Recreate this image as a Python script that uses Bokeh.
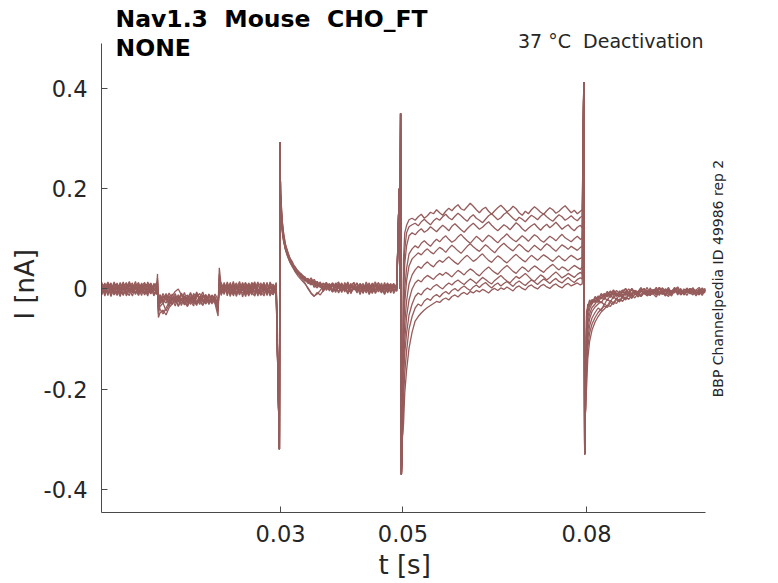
import math
from bokeh.plotting import figure
from bokeh.models import Range1d, FixedTicker, Label, Title
from bokeh.embed import file_html
from bokeh.resources import INLINE

# ---------------- data: time in ms, current in pA (10 sweeps) ----------------
segA_t_ms = [0.8, 1.3, 1.8, 2.3, 2.8, 3.3, 3.8, 4.3, 4.8, 5.3, 5.8, 6.3, 6.8, 7.3, 7.8, 8.3, 8.8, 9.3, 9.8]
segA_pA = [
    [4, -9, 11, -3, 14, 2, -12, 7, -1, 10, -8, 3, 13, -6, 1, -14, 8, -4, 6],
    [-7, 5, -13, 9, -2, 12, -5, -11, 3, 15, -4, 8, -9, 0, 11, -6, 4, -12, 2],
    [10, -3, 6, -15, 4, -7, 13, 0, -10, 5, 12, -8, 2, -13, 7, 9, -5, 1, -9],
    [-12, 8, 1, 12, -9, 5, -2, 14, -6, -13, 6, -1, 10, -7, 3, -11, 12, -3, 8],
    [7, -14, 9, -5, 2, -10, 11, -3, 13, -8, 0, 15, -6, 4, -12, 2, -7, 10, -2],
    [-3, 12, -8, 5, -12, 9, 3, -9, 8, 1, -14, 4, -5, 12, -2, 7, -10, 5, 13],
    [13, -6, 4, -10, 8, -1, -15, 6, 11, -4, 7, -11, 3, 9, -8, 14, 1, -6, -11],
    [-9, 2, 14, -1, -11, 7, 5, -13, 2, 8, -6, 10, -12, 5, 13, -3, -9, 11, 4],
    [1, -11, 7, 10, -4, -13, 9, 2, -7, 12, 3, -9, 7, -3, -10, 6, 11, -14, 0],
    [6, 9, -6, -8, 11, 3, -8, 12, -14, -2, 9, 1, -13, 8, 4, -9, -1, 7, -5],
]
blip1_t_ms = [9.9, 10.05]
blip1_pA = [[30, -40], [22, -57], [15, -50], [18, -45], [12, -42],
            [8, -36], [6, -30], [4, -27], [2, -25], [0, -22]]

segB_t_ms = [10.3, 10.8, 11.3, 11.8, 12.3, 12.8, 13.3, 13.8, 14.3, 14.8, 15.3, 15.8, 16.3, 16.8, 17.3, 17.8, 18.3, 18.8, 19.3]
segB_pA = [
    [-14, -26, -9, -20, -31, -13, -24, -8, -19, -29, -15, -22, -6, -27, -18, -11, -25, -16, -23],
    [-48, -42, -52, -37, -30, -22, -33, -18, -27, -35, -21, -14, -28, -24, -32, -17, -26, -20, -29],
    [-35, -28, -44, -31, -16, -25, -12, -22, -30, -19, -7, -24, -33, -15, -21, -28, -10, -25, -18],
    [-22, -30, -17, -34, -21, -9, -26, -19, -32, -14, -23, -29, -11, -20, -25, -16, -31, -13, -21],
    [-27, -14, -23, -8, -19, -28, -12, -33, -17, -24, -10, -21, -30, -18, -6, -26, -15, -22, -28],
    [-40, -50, -38, -26, -14, -5, 0, -12, -22, -16, -27, -9, -19, -31, -14, -24, -11, -20, -26],
    [-18, -25, -11, -29, -20, -34, -15, -23, -7, -26, -20, -13, -29, -22, -33, -17, -24, -12, -19],
    [-25, -9, -21, -16, -30, -19, -26, -11, -24, -33, -18, -27, -15, -9, -23, -30, -20, -27, -15],
    [-11, -22, -28, -13, -24, -16, -35, -21, -14, -20, -31, -17, -25, -20, -12, -19, -28, -16, -24],
    [-30, -18, -13, -25, -10, -23, -19, -28, -16, -12, -24, -34, -8, -17, -27, -13, -21, -30, -10],
]
blip2_t_ms = [19.8, 20.0]
blip2_pA = [[-35, 42], [-54, 30], [-42, 25], [-38, 20], [-30, 15],
            [-45, 12], [-28, 8], [-33, 5], [-25, 3], [-22, 0]]

segC_t_ms = [20.3, 20.8, 21.3, 21.8, 22.3, 22.8, 23.3, 23.8, 24.3, 24.8, 25.3, 25.8, 26.3, 26.8, 27.3, 27.8, 28.3, 28.8, 29.3]
segC_pA = [
    [6, -4, 9, -12, 3, 12, -7, 1, -15, 8, -2, 11, -9, 4, -5, 13, -11, 2, -6],
    [-9, 8, -2, 13, -14, 4, -6, 10, -3, -12, 7, 0, 14, -8, 5, -13, 9, -4, 11],
    [2, -11, 14, -5, 7, -9, 11, -16, 3, 9, -7, -14, 5, 12, -10, 1, -6, 10, -13],
    [-13, 5, -7, 8, -10, 0, 15, -4, 10, -8, 13, 4, -11, -2, 9, -7, 14, -12, 3],
    [11, -1, 3, -15, 12, -6, -2, 7, -12, 5, -5, 9, -3, -13, 11, -4, 1, 7, -9],
    [-5, 13, -10, 4, -3, 10, -12, 3, 13, -1, -10, 6, -14, 8, 0, 12, -8, -11, 6],
    [8, -8, 6, -2, 15, -13, 5, -9, 0, 12, 2, -11, 10, -6, -14, 7, 3, -3, 13],
    [-2, 10, -14, 11, -6, 7, -11, 13, -7, -4, 11, -6, 1, -12, 6, -9, 12, 5, -8],
    [13, -6, 1, -9, 5, -15, 9, -2, 7, -14, 4, 14, -8, 9, -3, 3, -14, 8, -1],
    [-10, 3, 11, -7, -11, 8, -4, 12, -10, 3, -12, 8, -4, 2, 13, -10, 6, -7, 9],
]

spike1_t_ms = [29.82, 29.92, 30.0]
spike1_pA = [-320, 293, 190]

decay_t_ms = [30.1, 30.3, 30.5, 30.8, 31.1, 31.5, 31.9, 32.4, 32.9, 33.4, 34.0,
              34.5, 35.0, 35.5, 36.0, 36.5, 37.0, 37.5, 38.0, 38.5, 39.0, 39.5, 40.0,
              40.5, 41.0, 41.5, 42.0, 42.5, 43.0, 43.5, 44.0, 44.5, 45.0, 45.5, 46.0,
              46.5, 47.0, 47.5, 48.0, 48.5, 49.0]
decay_pA = [
    [175, 135, 112, 90, 78, 62, 55, 41, 36, 27, 24, 14, 19, 8, 15, 4, 11, 0, 9, -3, 12, 2, 7, -6, 10, 1, 13, -5, 4, 11, -2, 8, -7, 5, 12, -4, 3, 9, -8, 6, 2],
    [165, 128, 106, 83, 70, 57, 47, 42, 30, 29, 18, 21, 10, 16, 6, 13, -2, 10, 4, -6, 9, 14, -3, 6, -9, 8, 2, -5, 11, 0, 7, -10, 4, 9, -3, 12, -6, 1, 8, -4, 5],
    [150, 120, 100, 80, 73, 56, 52, 36, 33, 22, 21, 11, 17, 3, 12, 8, -4, 13, 1, 7, -7, 10, 3, -3, 12, -8, 6, 0, 9, -5, 14, 2, -9, 7, 4, -2, 10, -6, 3, 11, -4],
    [145, 115, 96, 78, 66, 54, 45, 34, 25, 18, 10, 2, -8, -14, -10, -3, 6, -1, 9, -6, 3, 11, -4, 5, -10, 8, -2, 12, -7, 2, 6, -11, 9, -1, 4, -8, 13, -3, 7, -5, 1],
    [170, 132, 110, 88, 75, 63, 51, 44, 34, 30, 22, 17, 13, 19, 9, 4, 12, -3, 7, 10, -5, 3, 12, -2, 8, -9, 5, 11, -4, 1, 9, -7, 6, 14, -1, 3, -10, 8, 0, 10, -5],
    [155, 118, 102, 84, 69, 58, 49, 38, 31, 24, 19, 15, 22, 11, 7, 14, -1, 6, 11, -6, 4, 9, -4, 13, 0, -8, 7, 3, 10, -7, 5, -3, 12, -9, 2, 8, -2, 11, -6, 4, 0],
    [160, 124, 104, 82, 71, 59, 48, 39, 30, 21, 12, 0, -9, -15, -7, -12, -3, 4, 9, -2, 6, -8, 10, 1, -5, 7, 13, -4, 3, -9, 8, 2, -6, 11, -2, 5, -11, 6, 10, -3, 4],
    [140, 112, 95, 80, 68, 55, 46, 37, 29, 25, 17, 13, 8, 15, 4, 10, 1, 7, -4, 12, 5, -6, 9, 2, 14, -3, 6, -8, 10, 3, -5, 9, 1, -7, 13, 0, 6, -4, 11, -9, 3],
    [158, 122, 101, 86, 74, 61, 47, 41, 33, 23, 20, 12, 16, 7, 2, 11, -5, 8, 3, 12, -3, 6, -7, 9, 0, 11, -2, 5, -11, 8, 3, 12, -4, 7, -6, 2, 9, -8, 5, 1, 10],
    [148, 117, 99, 81, 70, 57, 50, 43, 30, 27, 16, 19, 9, 12, 14, 3, 8, 13, -2, 5, 9, 1, -4, 7, 10, -6, 4, 12, -1, 6, -8, 3, 10, -3, 7, -7, 1, 12, -5, 8, -2],
]

spike2_t_ms = [49.4, 49.5, 49.62, 49.75, 49.9]
spike2_pA = [200, 0, 350, -370, -300]

step_t_ms = [50.1, 50.3, 50.6, 51.0, 51.5,
             52.0, 52.5, 53.0, 53.5, 54.0, 54.5, 55.0, 55.5, 56.0, 56.5, 57.0, 57.5,
             58.0, 58.5, 59.0, 59.5, 60.0, 60.5, 61.0, 61.5, 62.0, 62.5, 63.0, 63.5,
             64.0, 64.5, 65.0, 65.5, 66.0, 66.5, 67.0, 67.5, 68.0, 68.5, 69.0, 69.5,
             70.0, 70.5, 71.0, 71.5, 72.0, 72.5, 73.0, 73.5, 74.0, 74.5, 75.0, 75.5,
             76.0, 76.5, 77.0, 77.5, 78.0, 78.5, 79.0, 79.3]
step_pA = [
    [60, 112, 127, 138, 141, 137, 144, 149, 141, 146, 153, 150, 158, 152, 147, 155, 161, 156, 163, 168, 160, 157, 164, 171, 165, 158, 152, 159, 163, 155, 149, 156, 162, 167, 161, 154, 158, 165, 160, 152, 147, 155, 150, 158, 164, 159, 153, 149, 156, 162, 158, 151, 155, 161, 166, 159, 152, 157, 150, 155, 158],
    [20, 78, 112, 124, 128, 131, 126, 134, 139, 133, 128, 136, 141, 137, 144, 149, 142, 138, 145, 151, 146, 140, 135, 143, 148, 141, 137, 132, 139, 146, 150, 144, 138, 142, 149, 153, 147, 141, 136, 143, 139, 134, 141, 147, 143, 138, 145, 150, 144, 139, 135, 142, 148, 144, 137, 141, 146, 140, 136, 143, 145],
    [-20, 50, 86, 106, 112, 108, 115, 120, 113, 117, 124, 119, 114, 121, 127, 122, 116, 125, 130, 124, 118, 113, 120, 126, 131, 125, 119, 123, 129, 134, 127, 121, 116, 122, 128, 124, 118, 125, 132, 127, 120, 115, 121, 126, 130, 123, 117, 124, 129, 122, 127, 133, 126, 119, 124, 128, 121, 116, 123, 127, 122],
    [-60, 2, 41, 70, 80, 86, 82, 91, 96, 90, 85, 93, 99, 94, 101, 106, 99, 93, 97, 104, 109, 102, 96, 91, 98, 105, 100, 94, 101, 107, 103, 97, 92, 99, 104, 110, 103, 98, 94, 100, 106, 101, 95, 102, 108, 104, 97, 93, 99, 105, 101, 96, 103, 109, 102, 98, 94, 100, 105, 99, 101],
    [-90, -28, 16, 46, 60, 66, 72, 68, 75, 80, 74, 70, 77, 83, 79, 73, 81, 87, 82, 76, 71, 78, 85, 90, 84, 79, 75, 82, 88, 83, 77, 72, 80, 86, 91, 85, 80, 76, 83, 89, 84, 78, 74, 81, 87, 82, 77, 84, 90, 86, 80, 75, 82, 88, 84, 79, 85, 81, 77, 83, 85],
    [-120, -68, -24, 10, 28, 38, 45, 41, 49, 54, 48, 44, 52, 57, 53, 59, 64, 58, 53, 49, 56, 62, 67, 61, 55, 59, 65, 70, 63, 57, 53, 60, 66, 62, 56, 52, 58, 64, 69, 63, 58, 54, 61, 67, 62, 57, 63, 68, 64, 59, 55, 61, 66, 60, 56, 62, 67, 63, 58, 61, 63],
    [-150, -102, -55, -22, 0, 12, 18, 14, 22, 27, 23, 19, 26, 31, 27, 33, 29, 24, 31, 37, 33, 28, 35, 40, 36, 30, 26, 33, 39, 44, 38, 33, 29, 36, 42, 47, 41, 35, 31, 38, 44, 40, 34, 41, 46, 42, 37, 33, 40, 45, 49, 43, 38, 44, 41, 36, 42, 47, 43, 39, 45],
    [-180, -128, -88, -52, -30, -15, -8, -12, -3, 2, -2, 5, 9, 4, 0, 7, 12, 8, 14, 18, 13, 9, 15, 20, 16, 11, 17, 23, 19, 14, 10, 17, 22, 27, 21, 16, 12, 19, 25, 21, 26, 31, 25, 19, 15, 22, 28, 24, 18, 23, 29, 34, 28, 22, 26, 31, 27, 23, 29, 33, 30],
    [-220, -168, -124, -80, -55, -38, -30, -34, -24, -19, -23, -15, -11, -16, -9, -5, -10, -3, 1, -4, 2, 6, 1, -3, 4, 8, 3, 9, 13, 7, 2, 8, 12, 6, 11, 15, 10, 5, 12, 16, 11, 7, 13, 18, 14, 9, 15, 20, 16, 11, 17, 21, 15, 12, 18, 23, 17, 13, 19, 22, 20],
    [-270, -208, -162, -118, -86, -64, -55, -48, -42, -37, -33, -29, -25, -27, -21, -18, -22, -15, -12, -16, -10, -7, -11, -5, -8, -3, -6, -1, -4, -8, -2, 1, -3, 2, -1, 4, 0, -4, 3, 6, 1, -2, 5, 8, 3, 0, 6, 9, 4, 1, 7, 10, 5, 2, 8, 11, 6, 9, 12, 8, 10],
]

spike3_t_ms = [79.55, 79.7, 79.85]
spike3_pA = [413, -330, -220]

tail_t_ms = [80.0, 80.2, 80.5, 80.9, 81.4, 81.9, 82.4, 82.9, 83.4, 83.9, 84.4, 84.9,
             85.4, 85.9, 86.4, 86.9, 87.4, 87.9, 88.4, 88.9, 89.4, 89.9, 90.4, 90.9,
             91.4, 91.9, 92.4, 92.9, 93.4, 93.9, 94.4, 94.9, 95.4, 95.9, 96.4, 96.9,
             97.4, 97.9, 98.4, 98.9, 99.4]
tail_pA = [
    [-200, -140, -105, -82, -66, -55, -46, -40, -33, -35, -26, -29, -20, -25, -16, -21, -12, -18, -9, -15, -6, -13, -3, -10, -16, -5, -11, 0, -8, -14, -2, -9, 1, -12, -5, -7, 2, -10, -4, -13, -1],
    [-170, -118, -88, -70, -57, -47, -40, -34, -37, -27, -31, -21, -26, -17, -22, -12, -19, -8, -16, -11, -4, -14, -9, -1, -12, -6, 2, -10, -15, -3, -8, 3, -11, -5, -13, -2, 1, -9, -6, -11, -3],
    [-150, -100, -74, -58, -47, -38, -43, -30, -34, -23, -28, -18, -24, -13, -20, -9, -17, -11, -5, -15, -8, -2, -13, -6, -11, 1, -7, -14, -4, -9, 2, -12, -3, -8, 0, -10, -5, -14, -1, -7, -4],
    [-130, -85, -60, -45, -36, -30, -25, -32, -20, -26, -15, -21, -11, -18, -7, -14, -10, -3, -12, -6, 0, -9, -13, -2, -8, 3, -6, -11, -1, -9, -4, 2, -12, -5, -8, 1, -6, -10, 0, -5, -8],
    [-110, -70, -50, -37, -30, -22, -28, -17, -23, -12, -19, -8, -15, -5, -13, -9, -2, -11, -6, 2, -8, -13, -3, -7, 1, -10, -4, -12, 0, -6, 3, -9, -2, -11, -5, 1, -7, -3, -10, 0, -6],
    [-95, -58, -40, -29, -22, -27, -16, -21, -11, -17, -7, -14, -4, -12, -8, 0, -10, -5, -13, -2, -7, 3, -9, -4, -12, 1, -6, -10, -1, -8, 2, -5, -11, -3, 0, -7, -12, -2, -6, 2, -4],
    [-80, -47, -32, -22, -27, -16, -20, -11, -16, -6, -13, -3, -10, -15, -5, -9, 1, -7, -12, -2, -6, -11, 2, -8, -4, -13, -1, -5, 3, -9, -6, -2, -10, 0, -4, -8, 1, -11, -3, -7, -1],
    [-65, -38, -25, -30, -18, -22, -12, -17, -8, -14, -4, -11, -16, -6, -1, -9, -13, -3, -7, 2, -10, -5, -12, -1, -6, 3, -8, -11, -2, -5, 1, -9, -4, -10, 2, -6, -1, -8, -12, -3, 0],
    [-55, -30, -34, -21, -24, -14, -18, -9, -13, -4, -10, -15, -7, -2, -11, -6, 0, -8, -13, -3, 1, -9, -5, -11, -1, -7, 2, -4, -12, -6, 0, -8, -3, -10, 1, -5, -9, -2, 3, -6, -3],
    [-45, -38, -22, -28, -15, -20, -9, -15, -5, -12, -2, -9, -14, -4, 1, -8, -11, -3, -6, 2, -9, -13, -1, -5, 3, -7, -10, 0, -4, -12, -2, 4, -6, -9, -1, -5, 2, -8, -3, -7, 1],
]

x_ticks = [0.03, 0.05, 0.08]
x_tick_labels = ["0.03", "0.05", "0.08"]
y_ticks = [-0.4, -0.2, 0, 0.2, 0.4]
y_tick_labels = ["-0.4", "-0.2", "0", "0.2", "0.4"]
x_limits = (0.00075, 0.0994)
y_limits = (-0.446, 0.49)

NB = "\u00a0"
title_line1 = "Nav1.3" + NB + " Mouse" + NB + " CHO_FT"
title_line2 = "NONE"
condition_text = "37 \u00b0C" + NB + " Deactivation"
side_text = "BBP Channelpedia ID 49986 rep 2"
x_label = "t [s]"
y_label = "I [nA]"

# ---------------- assemble sweeps (ms -> s, pA -> nA) ----------------
t_ms = (segA_t_ms + blip1_t_ms + segB_t_ms + blip2_t_ms + segC_t_ms + spike1_t_ms
        + decay_t_ms + spike2_t_ms + step_t_ms + spike3_t_ms + tail_t_ms)
t_s = [v / 1000.0 for v in t_ms]
xs, ys = [], []
for k in range(len(segA_pA)):
    y = (segA_pA[k] + blip1_pA[k] + segB_pA[k] + blip2_pA[k] + segC_pA[k] + spike1_pA
         + decay_pA[k] + spike2_pA + step_pA[k] + spike3_pA + tail_pA[k])
    n = min(len(t_s), len(y))
    xs.append(t_s[:n])
    ys.append([v / 1000.0 for v in y[:n]])

TRACE = "#965c5c"
AX = "#262626"
FONT = "DejaVu Sans"

W, H = 778, 583
LEFT, BOTTOM = 101, 71
PX_PER_S = 6120.0
PX_PER_NA = 501.25
x_end = x_limits[0] + (W - LEFT) / PX_PER_S
y_start = y_limits[0]
y_end = y_start + (H - BOTTOM) / PX_PER_NA

p = figure(width=W, height=H, output_backend="svg", toolbar_location=None, title=None,
           x_range=Range1d(x_limits[0], x_end), y_range=Range1d(y_start, y_end),
           min_border_left=LEFT, min_border_right=0, min_border_top=0, min_border_bottom=BOTTOM)
p.outline_line_color = None
p.background_fill_color = "white"
p.border_fill_color = "white"
p.xgrid.visible = False
p.ygrid.visible = False

p.multi_line(xs=xs, ys=ys, line_color=TRACE, line_width=1.3)

for ax in (p.xaxis[0], p.yaxis[0]):
    ax.axis_line_color = "#4a4a4a"
    ax.axis_line_width = 1
    ax.major_tick_line_color = "#4a4a4a"
    ax.major_tick_in = 6
    ax.major_tick_out = 0
    ax.minor_tick_line_color = None
    ax.major_label_text_color = AX
    ax.major_label_text_font = FONT
    ax.major_label_text_font_size = "22.5px"

p.xaxis.bounds = x_limits
p.yaxis.bounds = y_limits
p.xaxis.ticker = FixedTicker(ticks=x_ticks)
p.xaxis.major_label_overrides = dict(zip(x_ticks, x_tick_labels))
p.xaxis.major_label_standoff = 12
p.yaxis.ticker = FixedTicker(ticks=y_ticks)
p.yaxis.major_label_overrides = dict(zip(y_ticks, y_tick_labels))
p.yaxis.major_label_standoff = 14

# axis labels as side titles, offset from the frame start to sit at the axis centre
p.add_layout(Title(text=x_label, align="left", offset=277, standoff=7,
                   text_font=FONT, text_font_size="26px", text_font_style="normal",
                   text_color=AX), "below")
p.add_layout(Title(text=y_label, align="left", offset=193, standoff=1,
                   text_font=FONT, text_font_size="26px", text_font_style="normal",
                   text_color=AX), "left")


def lab(text, x, y, size, align="left", angle=0.0, bold=False):
    p.add_layout(Label(x=x, y=y, x_units="screen", y_units="screen", text=text,
                       text_font=FONT, text_font_size=size,
                       text_color="black" if bold else AX,
                       text_font_style="bold" if bold else "normal",
                       text_align=align, text_baseline="middle", angle=angle))


lab(title_line1, 14, 494, "23.5px", bold=True)
lab(title_line2, 14, 465, "23.5px", bold=True)
lab(condition_text, 602, 472, "19px", align="right")
lab(side_text, 616, 234, "14px", align="center", angle=math.pi / 2)

open("out.html", "w").write(file_html(p, INLINE))
